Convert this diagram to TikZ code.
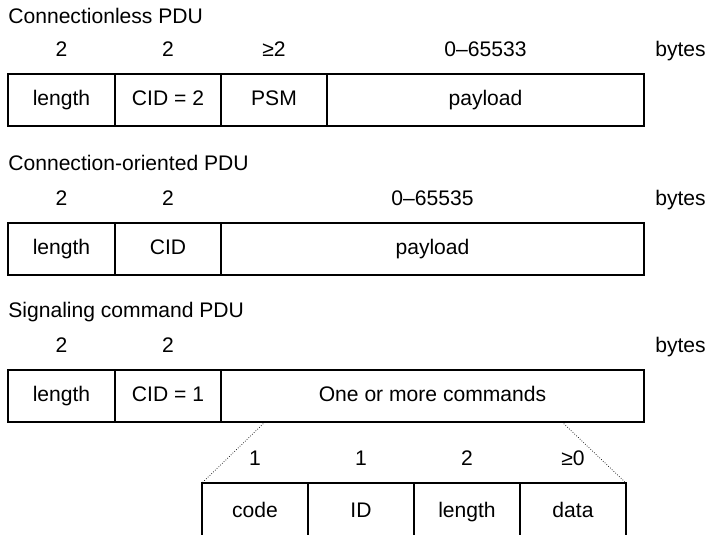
\documentclass[tikz,border=0pt]{standalone}
\usepackage{fontspec}
\setmainfont{Liberation Sans}
\usetikzlibrary{positioning,calc}

\begin{document}
\begin{tikzpicture}[font=\fontsize{12}{14}\selectfont,
  cell/.style={draw,very thick,outer sep=0pt,inner sep=0pt,minimum height=1.04cm,text height=1.5ex,text depth=.25ex},
  lbl/.style={inner sep=0pt,text height=1.5ex,text depth=.25ex},
  zoomline/.style={densely dotted,thin}]
  \useasboundingbox (0,0) rectangle (14.18,-10.68);

  % connectionless PDU
  \node[lbl,anchor=west] (t1) at (0.16,-0.36) {Connectionless PDU};
  \node[cell,anchor=north west,minimum width=2.14cm] (len1) at (0.16,-1.48) {length};
  \node[cell,minimum width=2.12cm,right=0pt of len1] (cid1) {CID = 2};
  \node[cell,minimum width=2.12cm,right=0pt of cid1] (psm1) {PSM};
  \node[cell,minimum width=6.34cm,right=0pt of psm1] (pay1) {payload};
  \node[lbl] (n1a) at ([yshift=.46cm]len1.north) {2};
  \node[lbl] (n1b) at ([yshift=.46cm]cid1.north) {2};
  \node[lbl] (n1c) at ([yshift=.46cm]psm1.north) {≥2};
  \node[lbl] (n1d) at ([yshift=.46cm]pay1.north) {0–65533};
  \node[lbl,anchor=west] (by1) at ([xshift=.22cm,yshift=.46cm]pay1.north east) {bytes};

  % connection-oriented PDU
  \node[lbl,anchor=west] (t2) at (0.16,-3.30) {Connection-oriented PDU};
  \node[cell,anchor=north west,minimum width=2.14cm] (len2) at (0.16,-4.46) {length};
  \node[cell,minimum width=2.12cm,right=0pt of len2] (cid2) {CID};
  \node[cell,minimum width=8.46cm,right=0pt of cid2] (pay2) {payload};
  \node[lbl] (n2a) at ([yshift=.46cm]len2.north) {2};
  \node[lbl] (n2b) at ([yshift=.46cm]cid2.north) {2};
  \node[lbl] (n2c) at ([yshift=.46cm]pay2.north) {0–65535};
  \node[lbl,anchor=west] (by2) at ([xshift=.22cm,yshift=.46cm]pay2.north east) {bytes};

  % signaling command PDU
  \node[lbl,anchor=west] (t3) at (0.16,-6.24) {Signaling command PDU};
  \node[cell,anchor=north west,minimum width=2.14cm] (len3) at (0.16,-7.40) {length};
  \node[cell,minimum width=2.12cm,right=0pt of len3] (cid3) {CID = 1};
  \node[cell,minimum width=8.46cm,right=0pt of cid3] (cmd3) {One or more commands};
  \node[lbl] (n3a) at ([yshift=.46cm]len3.north) {2};
  \node[lbl] (n3b) at ([yshift=.46cm]cid3.north) {2};
  \node[lbl,anchor=west] (by3) at ([xshift=.22cm,yshift=.46cm]cmd3.north east) {bytes};

  % one command, bottom edge runs off the page
  \node[cell,anchor=north west,minimum width=2.12cm,minimum height=1.14cm] (code) at (4.04,-9.66) {code};
  \node[cell,minimum width=2.12cm,minimum height=1.14cm,right=0pt of code] (id) {ID};
  \node[cell,minimum width=2.12cm,minimum height=1.14cm,right=0pt of id] (clen) {length};
  \node[cell,minimum width=2.12cm,minimum height=1.14cm,right=0pt of clen] (data) {data};
  \node[lbl] (n4a) at ([yshift=.46cm]code.north) {1};
  \node[lbl] (n4b) at ([yshift=.46cm]id.north) {1};
  \node[lbl] (n4c) at ([yshift=.46cm]clen.north) {2};
  \node[lbl] (n4d) at ([yshift=.46cm]data.north) {≥0};

  \coordinate (zl) at ($(cmd3.south west)+(0.88,0)$);
  \coordinate (zr) at ($(cmd3.south west)+(6.82,0)$);
  \draw[zoomline] (zl) -- (code.north west);
  \draw[zoomline] (zr) -- (data.north east);
\end{tikzpicture}
\end{document}
